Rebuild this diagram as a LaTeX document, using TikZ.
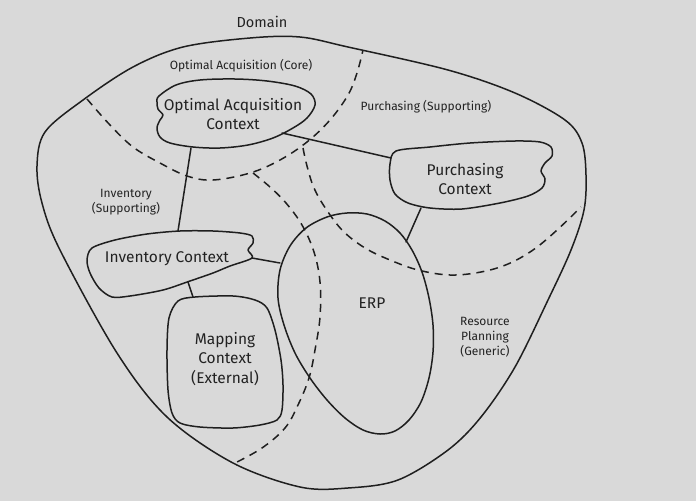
\documentclass[tikz,border=0pt]{standalone}
\usepackage{fontspec}
\setmainfont{Fira Sans}
\definecolor{bg}{HTML}{D9D9D9}
\definecolor{ink}{HTML}{1F1F1F}
\definecolor{txt}{HTML}{222222}
\tikzset{
  solidline/.style={draw=ink, line width=1.5pt, line join=round, line cap=round},
  dashline/.style={draw=ink, line width=1.5pt, dash pattern=on 8pt off 6pt},
  bigtext/.style={text=txt, align=center, inner sep=0pt, font=\fontsize{15.5}{19.5}\selectfont},
  smalltext/.style={text=txt, align=center, inner sep=0pt, font=\fontsize{12}{15.5}\selectfont},
}
\begin{document}
\begin{tikzpicture}[x=1pt, y=-1pt]
\fill[bg] (0,0) rectangle (696,501);
\useasboundingbox (0,0) rectangle (696,501);

% outer domain boundary
\draw[solidline] plot[smooth cycle, tension=0.55] coordinates {
 (37,166) (45,132) (83,100) (133,67) (183,47) (250,38) (300,37) (348,47)
 (448,70) (515,93) (565,120) (582,143) (586,175) (584,210) (571,250)
 (548,300) (515,367) (481,417) (448,450) (398,480) (348,488) (300,487)
 (233,463) (167,417) (117,353) (60,250) (42,203)};

% subdomain boundaries (dashed)
\draw[dashline] plot[smooth, tension=0.6] coordinates {
 (87,99) (110,125) (133,147) (160,163) (187,176) (213,180) (250,173)
 (280,160) (307,142) (330,120) (348,95) (357,73) (363,50)};
\draw[dashline] plot[smooth, tension=0.6] coordinates {
 (253,173) (270,187) (286,203) (302,225) (314,252) (320,282) (320,317)
 (315,350) (309,378) (298,405) (285,428) (262,448) (235,463)};
\draw[dashline] plot[smooth, tension=0.6] coordinates {
 (303,148) (307,166) (314,188) (326,209) (343,231) (365,248) (390,260)
 (418,270) (450,275) (481,272) (508,264) (533,250) (556,231) (581,207)};

% Optimal Acquisition Context
\draw[solidline, fill=bg] plot[smooth cycle, tension=0.55] coordinates {
 (159,96) (176,85) (200,80) (235,79) (267,81) (295,86) (311,94) (315,105)
 (307,118) (293,128) (273,138) (248,145) (220,148) (193,147) (170,143)
 (160,137) (157,128) (160,120) (163,115) (158,109) (157,102)};
% Purchasing Context
\draw[solidline, fill=bg] plot[smooth cycle, tension=0.5] coordinates {
 (396,151) (430,147) (470,143) (515,141) (540,142) (551,147) (552,156)
 (545,163) (541,171) (545,179) (542,188) (528,196) (500,203) (462,209)
 (430,208) (408,203) (395,194) (390,180) (390,164)};
% Inventory Context
\draw[solidline, fill=bg] plot[smooth cycle, tension=0.5] coordinates {
 (92,248) (115,240) (147,234) (180,231) (213,231) (240,233) (252,236)
 (253,243) (248,250) (252,258) (230,266) (213,273) (190,281) (163,290)
 (130,296) (112,297) (99,288) (90,273) (87,260)};
% Mapping Context
\draw[solidline, fill=bg] plot[smooth cycle, tension=0.5] coordinates {
 (178,301) (195,297) (233,296) (255,300) (267,308) (275,330) (281,360)
 (283,385) (282,410) (277,420) (260,425) (233,428) (200,427) (180,423)
 (172,413) (168,390) (167,350) (169,318)};
% ERP
\draw[solidline] plot[smooth cycle, tension=0.55] coordinates {
 (327,217) (347,213) (367,214) (385,221) (400,233) (412,250) (422,272)
 (429,298) (433,325) (433,352) (429,378) (421,402) (409,420) (395,431)
 (380,434) (363,430) (345,418) (327,400) (310,378) (295,353) (284,325)
 (278,298) (280,270) (290,246) (306,228)};

% connector end points
\coordinate (oacB) at (191,148);
\coordinate (icT)  at (178,231);
\coordinate (oacR) at (282,133);
\coordinate (pcL)  at (391,158);
\coordinate (pcB)  at (421,208);
\coordinate (erpT) at (406,242);
\coordinate (icR)  at (252,258);
\coordinate (erpL) at (280,263);
\coordinate (icB)  at (188,282);
\coordinate (mcT)  at (193,297);

\draw[solidline] (oacB) -- (icT);
\draw[solidline] (oacR) -- (pcL);
\draw[solidline] (pcB) -- (erpT);
\draw[solidline] (icR) -- (erpL);
\draw[solidline] (icB) -- (mcT);

% labels
\node[bigtext, font=\fontsize{14.5}{18}\selectfont] (domain) at (262,22) {Domain};
\node[smalltext] (coreLbl) at (241,66) {Optimal Acquisition (Core)};
\node[smalltext] (purchLbl) at (426,107) {Purchasing (Supporting)};
\node[smalltext] (invLbl) at (126,202) {Inventory\\(Supporting)};
\node[smalltext, font=\fontsize{12}{15}\selectfont] (resLbl) at (485,337) {Resource\\Planning\\(Generic)};

\node[bigtext] (oac) at (233,114) {Optimal Acquisition\\Context};
\node[bigtext] (pc) at (465,179) {Purchasing\\Context};
\node[bigtext] (ic) at (167,259) {Inventory Context};
\node[bigtext] (erp) at (372,303) {ERP};
\node[bigtext] (mc) at (225,359) {Mapping\\Context\\(External)};
\end{tikzpicture}
\end{document}
